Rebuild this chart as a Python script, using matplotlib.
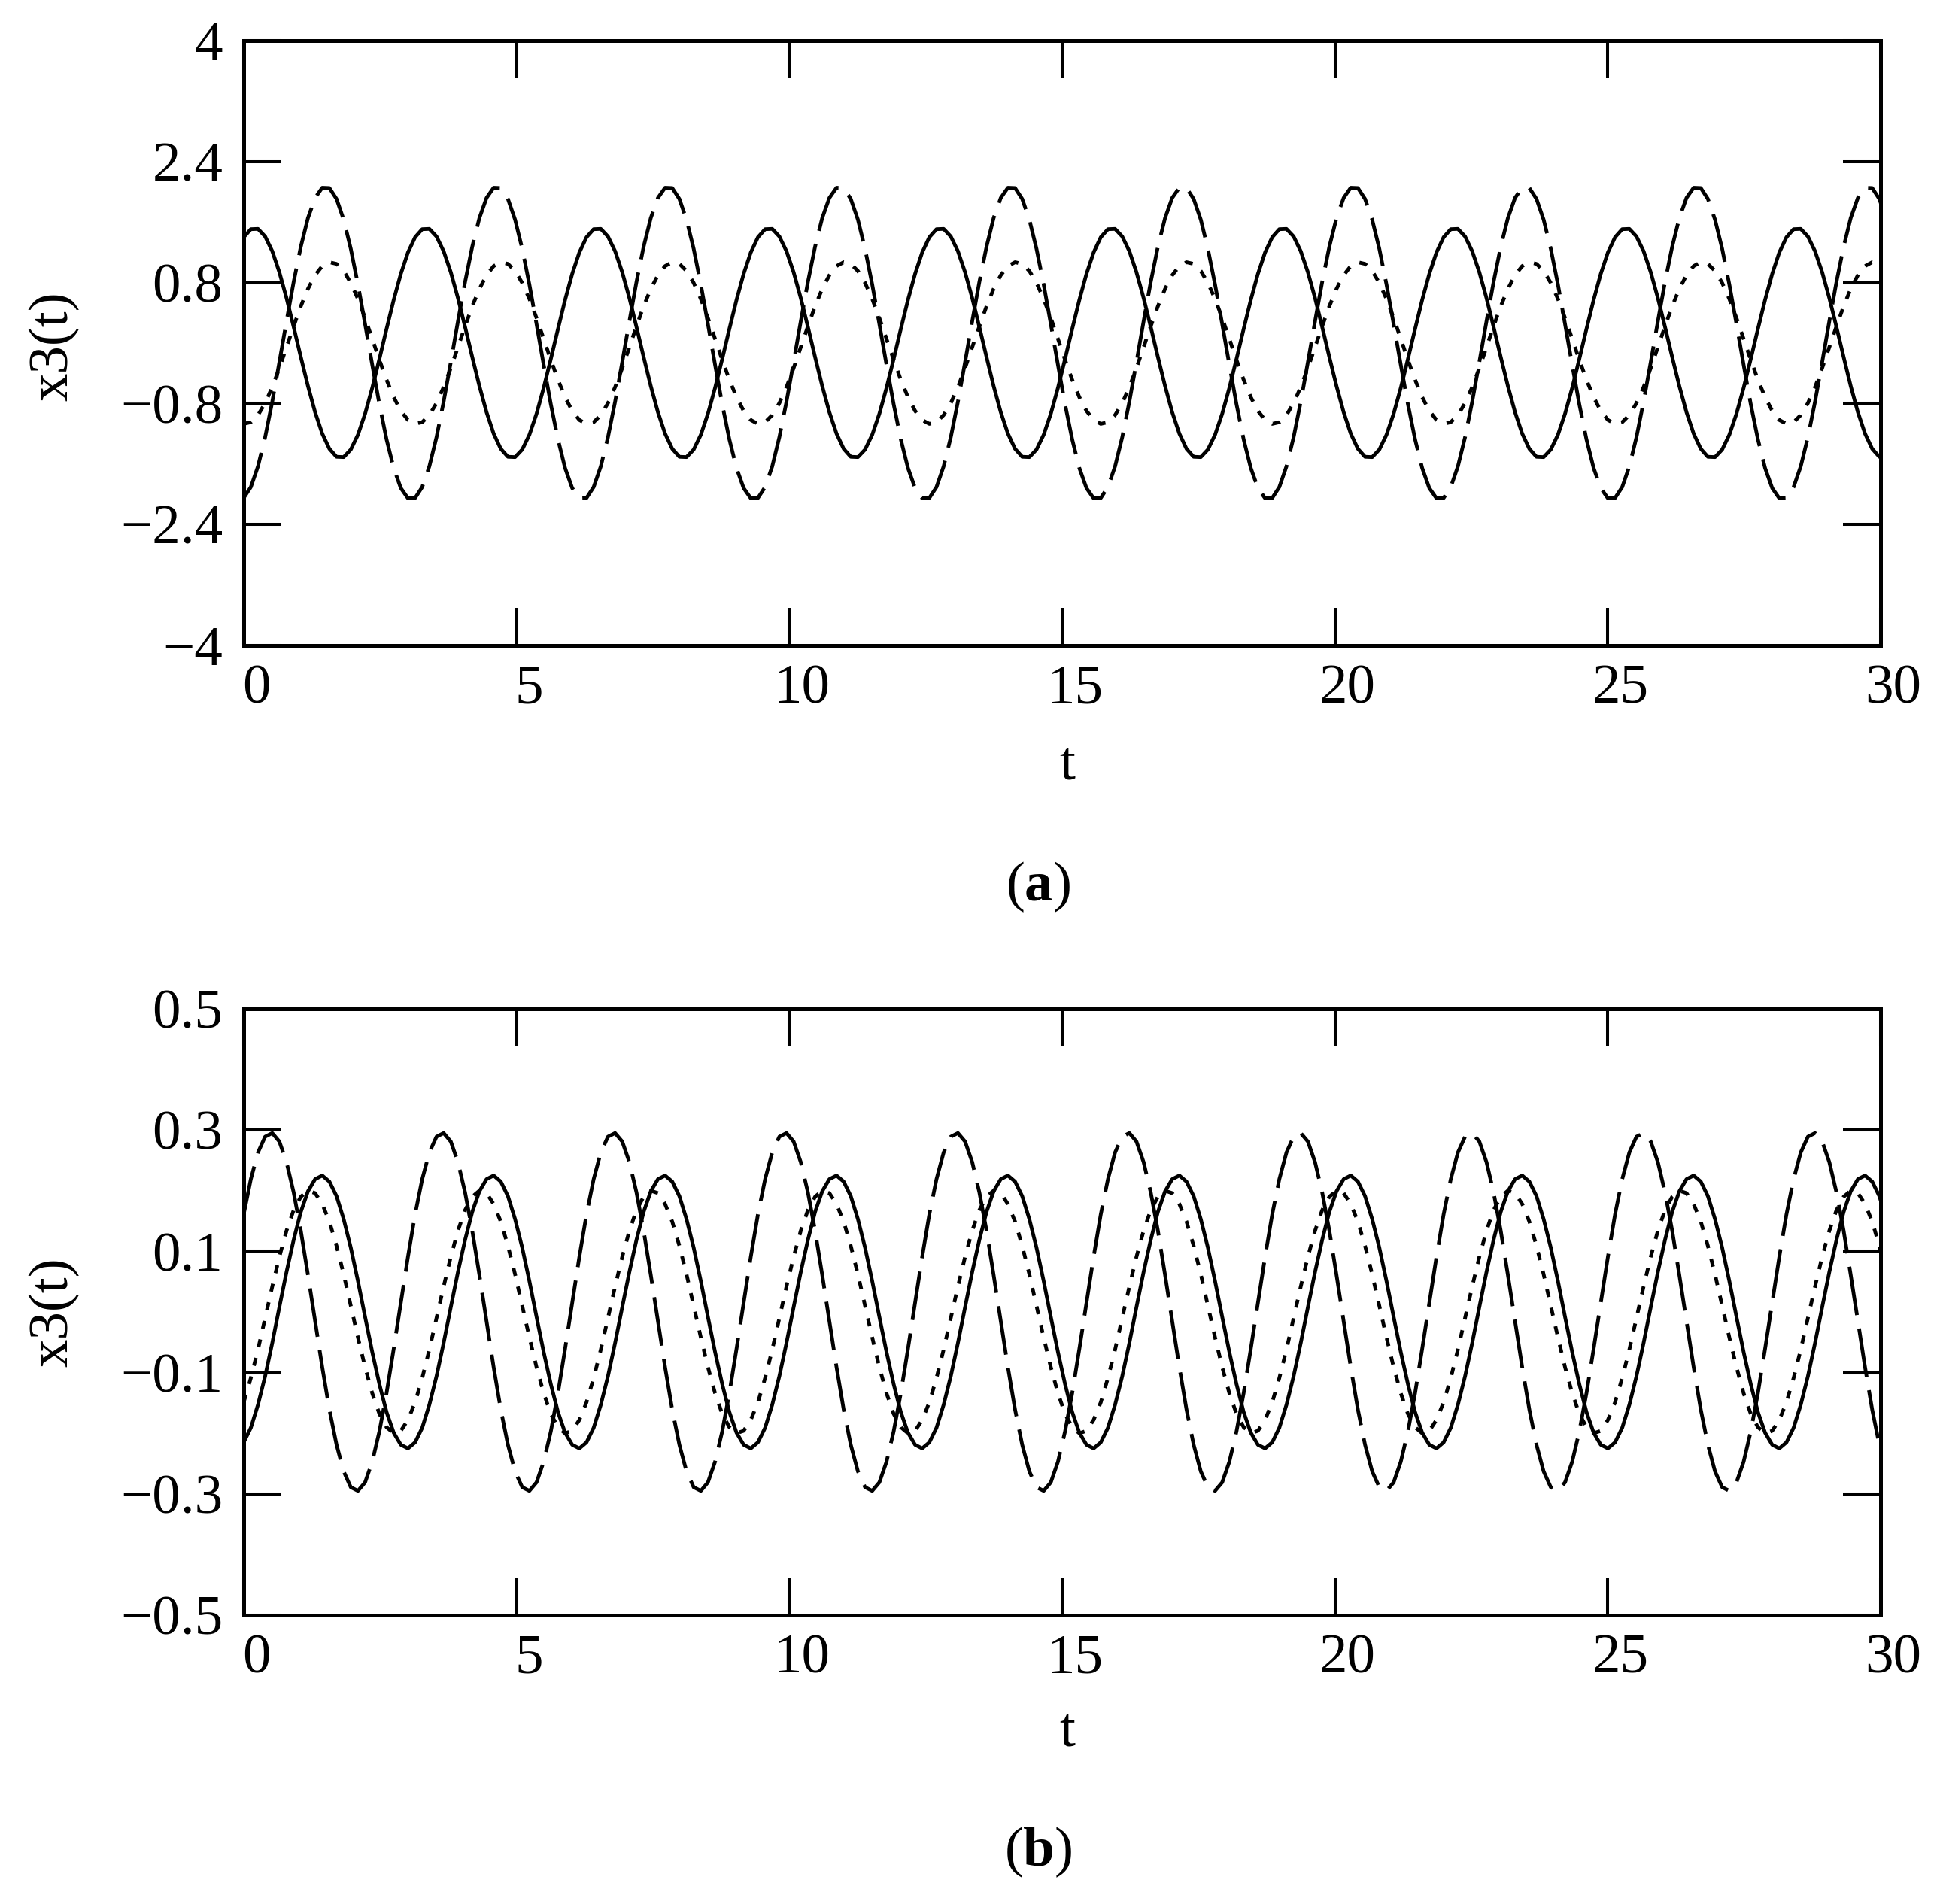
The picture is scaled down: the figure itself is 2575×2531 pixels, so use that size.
import matplotlib
matplotlib.use("Agg")
import matplotlib.pyplot as plt
import matplotlib.transforms as mtransforms

plt.rcParams['font.family'] = ['Liberation Serif', 'DejaVu Serif']
plt.rcParams['mathtext.fontset'] = 'custom'
plt.rcParams['mathtext.rm'] = 'Liberation Serif'
plt.rcParams['mathtext.bf'] = 'Liberation Serif:bold'

# sample times read along the t axis (24 samples per cycle, cycle ~ 3.14)
t = [0.000, 0.131, 0.262, 0.393, 0.524, 0.654, 0.785, 0.916, 1.047, 1.178, 1.309, 1.440,
     1.571, 1.702, 1.833, 1.963, 2.094, 2.225, 2.356, 2.487, 2.618, 2.749, 2.880, 3.011,
     3.142, 3.272, 3.403, 3.534, 3.665, 3.796, 3.927, 4.058, 4.189, 4.320, 4.451, 4.581,
     4.712, 4.843, 4.974, 5.105, 5.236, 5.367, 5.498, 5.629, 5.760, 5.890, 6.021, 6.152,
     6.283, 6.414, 6.545, 6.676, 6.807, 6.938, 7.069, 7.199, 7.330, 7.461, 7.592, 7.723,
     7.854, 7.985, 8.116, 8.247, 8.378, 8.508, 8.639, 8.770, 8.901, 9.032, 9.163, 9.294,
     9.425, 9.556, 9.687, 9.817, 9.948, 10.079, 10.210, 10.341, 10.472, 10.603, 10.734, 10.865,
     10.996, 11.126, 11.257, 11.388, 11.519, 11.650, 11.781, 11.912, 12.043, 12.174, 12.305, 12.435,
     12.566, 12.697, 12.828, 12.959, 13.090, 13.221, 13.352, 13.483, 13.614, 13.744, 13.875, 14.006,
     14.137, 14.268, 14.399, 14.530, 14.661, 14.792, 14.923, 15.053, 15.184, 15.315, 15.446, 15.577,
     15.708, 15.839, 15.970, 16.101, 16.232, 16.362, 16.493, 16.624, 16.755, 16.886, 17.017, 17.148,
     17.279, 17.410, 17.541, 17.671, 17.802, 17.933, 18.064, 18.195, 18.326, 18.457, 18.588, 18.719,
     18.850, 18.980, 19.111, 19.242, 19.373, 19.504, 19.635, 19.766, 19.897, 20.028, 20.159, 20.289,
     20.420, 20.551, 20.682, 20.813, 20.944, 21.075, 21.206, 21.337, 21.468, 21.598, 21.729, 21.860,
     21.991, 22.122, 22.253, 22.384, 22.515, 22.646, 22.777, 22.907, 23.038, 23.169, 23.300, 23.431,
     23.562, 23.693, 23.824, 23.955, 24.086, 24.216, 24.347, 24.478, 24.609, 24.740, 24.871, 25.002,
     25.133, 25.264, 25.395, 25.525, 25.656, 25.787, 25.918, 26.049, 26.180, 26.311, 26.442, 26.573,
     26.704, 26.834, 26.965, 27.096, 27.227, 27.358, 27.489, 27.620, 27.751, 27.882, 28.013, 28.143,
     28.274, 28.405, 28.536, 28.667, 28.798, 28.929, 29.060, 29.191, 29.322, 29.452, 29.583, 29.714,
     29.845, 29.976, 30.107]

# panel (a): solid, long-dash and short-dash curves
a_solid = [1.399, 1.505, 1.509, 1.409, 1.214, 0.936, 0.594, 0.212, -0.185, -0.569, -0.915, -1.198,
           -1.399, -1.505, -1.509, -1.409, -1.214, -0.936, -0.594, -0.212, 0.185, 0.569, 0.915, 1.198,
           1.399, 1.505, 1.509, 1.409, 1.214, 0.936, 0.594, 0.212, -0.185, -0.569, -0.915, -1.198,
           -1.399, -1.505, -1.509, -1.409, -1.214, -0.936, -0.594, -0.212, 0.185, 0.569, 0.915, 1.198,
           1.399, 1.505, 1.509, 1.409, 1.214, 0.936, 0.594, 0.212, -0.185, -0.569, -0.915, -1.198,
           -1.399, -1.505, -1.509, -1.409, -1.214, -0.936, -0.594, -0.212, 0.185, 0.569, 0.915, 1.198,
           1.399, 1.505, 1.509, 1.409, 1.214, 0.936, 0.594, 0.212, -0.185, -0.569, -0.915, -1.198,
           -1.399, -1.505, -1.509, -1.409, -1.214, -0.936, -0.594, -0.212, 0.185, 0.569, 0.915, 1.198,
           1.399, 1.505, 1.509, 1.409, 1.214, 0.936, 0.594, 0.212, -0.185, -0.569, -0.915, -1.198,
           -1.399, -1.505, -1.509, -1.409, -1.214, -0.936, -0.594, -0.212, 0.185, 0.569, 0.915, 1.198,
           1.399, 1.505, 1.509, 1.409, 1.214, 0.936, 0.594, 0.212, -0.185, -0.569, -0.915, -1.198,
           -1.399, -1.505, -1.509, -1.409, -1.214, -0.936, -0.594, -0.212, 0.185, 0.569, 0.915, 1.198,
           1.399, 1.505, 1.509, 1.409, 1.214, 0.936, 0.594, 0.212, -0.185, -0.569, -0.915, -1.198,
           -1.399, -1.505, -1.509, -1.409, -1.214, -0.936, -0.594, -0.212, 0.185, 0.569, 0.915, 1.198,
           1.399, 1.505, 1.509, 1.409, 1.214, 0.936, 0.594, 0.212, -0.185, -0.569, -0.915, -1.198,
           -1.399, -1.505, -1.509, -1.409, -1.214, -0.936, -0.594, -0.212, 0.185, 0.569, 0.915, 1.198,
           1.399, 1.505, 1.509, 1.409, 1.214, 0.936, 0.594, 0.212, -0.185, -0.569, -0.915, -1.198,
           -1.399, -1.505, -1.509, -1.409, -1.214, -0.936, -0.594, -0.212, 0.185, 0.569, 0.915, 1.198,
           1.399, 1.505, 1.509, 1.409, 1.214, 0.936, 0.594, 0.212, -0.185, -0.569, -0.915, -1.198,
           -1.399, -1.505, -1.509]
a_dashed = [-2.050, -1.905, -1.631, -1.246, -0.775, -0.252, 0.288, 0.809, 1.274, 1.653, 1.919, 2.054,
            2.050, 1.905, 1.631, 1.246, 0.775, 0.252, -0.288, -0.809, -1.274, -1.653, -1.919, -2.054,
            -2.050, -1.905, -1.631, -1.246, -0.775, -0.252, 0.288, 0.809, 1.274, 1.653, 1.919, 2.054,
            2.050, 1.905, 1.631, 1.246, 0.775, 0.252, -0.288, -0.809, -1.274, -1.653, -1.919, -2.054,
            -2.050, -1.905, -1.631, -1.246, -0.775, -0.252, 0.288, 0.809, 1.274, 1.653, 1.919, 2.054,
            2.050, 1.905, 1.631, 1.246, 0.775, 0.252, -0.288, -0.809, -1.274, -1.653, -1.919, -2.054,
            -2.050, -1.905, -1.631, -1.246, -0.775, -0.252, 0.288, 0.809, 1.274, 1.653, 1.919, 2.054,
            2.050, 1.905, 1.631, 1.246, 0.775, 0.252, -0.288, -0.809, -1.274, -1.653, -1.919, -2.054,
            -2.050, -1.905, -1.631, -1.246, -0.775, -0.252, 0.288, 0.809, 1.274, 1.653, 1.919, 2.054,
            2.050, 1.905, 1.631, 1.246, 0.775, 0.252, -0.288, -0.809, -1.274, -1.653, -1.919, -2.054,
            -2.050, -1.905, -1.631, -1.246, -0.775, -0.252, 0.288, 0.809, 1.274, 1.653, 1.919, 2.054,
            2.050, 1.905, 1.631, 1.246, 0.775, 0.252, -0.288, -0.809, -1.274, -1.653, -1.919, -2.054,
            -2.050, -1.905, -1.631, -1.246, -0.775, -0.252, 0.288, 0.809, 1.274, 1.653, 1.919, 2.054,
            2.050, 1.905, 1.631, 1.246, 0.775, 0.252, -0.288, -0.809, -1.274, -1.653, -1.919, -2.054,
            -2.050, -1.905, -1.631, -1.246, -0.775, -0.252, 0.288, 0.809, 1.274, 1.653, 1.919, 2.054,
            2.050, 1.905, 1.631, 1.246, 0.775, 0.252, -0.288, -0.809, -1.274, -1.653, -1.919, -2.054,
            -2.050, -1.905, -1.631, -1.246, -0.775, -0.252, 0.288, 0.809, 1.274, 1.653, 1.919, 2.054,
            2.050, 1.905, 1.631, 1.246, 0.775, 0.252, -0.288, -0.809, -1.274, -1.653, -1.919, -2.054,
            -2.050, -1.905, -1.631, -1.246, -0.775, -0.252, 0.288, 0.809, 1.274, 1.653, 1.919, 2.054,
            2.050, 1.905, 1.631]
a_dotted = [-1.069, -1.047, -0.953, -0.795, -0.583, -0.331, -0.056, 0.222, 0.486, 0.716, 0.897, 1.018,
            1.069, 1.047, 0.953, 0.795, 0.583, 0.331, 0.056, -0.222, -0.486, -0.716, -0.897, -1.018,
            -1.069, -1.047, -0.953, -0.795, -0.583, -0.331, -0.056, 0.222, 0.486, 0.716, 0.897, 1.018,
            1.069, 1.047, 0.953, 0.795, 0.583, 0.331, 0.056, -0.222, -0.486, -0.716, -0.897, -1.018,
            -1.069, -1.047, -0.953, -0.795, -0.583, -0.331, -0.056, 0.222, 0.486, 0.716, 0.897, 1.018,
            1.069, 1.047, 0.953, 0.795, 0.583, 0.331, 0.056, -0.222, -0.486, -0.716, -0.897, -1.018,
            -1.069, -1.047, -0.953, -0.795, -0.583, -0.331, -0.056, 0.222, 0.486, 0.716, 0.897, 1.018,
            1.069, 1.047, 0.953, 0.795, 0.583, 0.331, 0.056, -0.222, -0.486, -0.716, -0.897, -1.018,
            -1.069, -1.047, -0.953, -0.795, -0.583, -0.331, -0.056, 0.222, 0.486, 0.716, 0.897, 1.018,
            1.069, 1.047, 0.953, 0.795, 0.583, 0.331, 0.056, -0.222, -0.486, -0.716, -0.897, -1.018,
            -1.069, -1.047, -0.953, -0.795, -0.583, -0.331, -0.056, 0.222, 0.486, 0.716, 0.897, 1.018,
            1.069, 1.047, 0.953, 0.795, 0.583, 0.331, 0.056, -0.222, -0.486, -0.716, -0.897, -1.018,
            -1.069, -1.047, -0.953, -0.795, -0.583, -0.331, -0.056, 0.222, 0.486, 0.716, 0.897, 1.018,
            1.069, 1.047, 0.953, 0.795, 0.583, 0.331, 0.056, -0.222, -0.486, -0.716, -0.897, -1.018,
            -1.069, -1.047, -0.953, -0.795, -0.583, -0.331, -0.056, 0.222, 0.486, 0.716, 0.897, 1.018,
            1.069, 1.047, 0.953, 0.795, 0.583, 0.331, 0.056, -0.222, -0.486, -0.716, -0.897, -1.018,
            -1.069, -1.047, -0.953, -0.795, -0.583, -0.331, -0.056, 0.222, 0.486, 0.716, 0.897, 1.018,
            1.069, 1.047, 0.953, 0.795, 0.583, 0.331, 0.056, -0.222, -0.486, -0.716, -0.897, -1.018,
            -1.069, -1.047, -0.953, -0.795, -0.583, -0.331, -0.056, 0.222, 0.486, 0.716, 0.897, 1.018,
            1.069, 1.047, 0.953]

# panel (b)
b_solid = [-0.215, -0.191, -0.153, -0.106, -0.051, 0.008, 0.066, 0.119, 0.165, 0.199, 0.219, 0.225,
           0.215, 0.191, 0.153, 0.106, 0.051, -0.008, -0.066, -0.119, -0.165, -0.199, -0.219, -0.225,
           -0.215, -0.191, -0.153, -0.106, -0.051, 0.008, 0.066, 0.119, 0.165, 0.199, 0.219, 0.225,
           0.215, 0.191, 0.153, 0.106, 0.051, -0.008, -0.066, -0.119, -0.165, -0.199, -0.219, -0.225,
           -0.215, -0.191, -0.153, -0.106, -0.051, 0.008, 0.066, 0.119, 0.165, 0.199, 0.219, 0.225,
           0.215, 0.191, 0.153, 0.106, 0.051, -0.008, -0.066, -0.119, -0.165, -0.199, -0.219, -0.225,
           -0.215, -0.191, -0.153, -0.106, -0.051, 0.008, 0.066, 0.119, 0.165, 0.199, 0.219, 0.225,
           0.215, 0.191, 0.153, 0.106, 0.051, -0.008, -0.066, -0.119, -0.165, -0.199, -0.219, -0.225,
           -0.215, -0.191, -0.153, -0.106, -0.051, 0.008, 0.066, 0.119, 0.165, 0.199, 0.219, 0.225,
           0.215, 0.191, 0.153, 0.106, 0.051, -0.008, -0.066, -0.119, -0.165, -0.199, -0.219, -0.225,
           -0.215, -0.191, -0.153, -0.106, -0.051, 0.008, 0.066, 0.119, 0.165, 0.199, 0.219, 0.225,
           0.215, 0.191, 0.153, 0.106, 0.051, -0.008, -0.066, -0.119, -0.165, -0.199, -0.219, -0.225,
           -0.215, -0.191, -0.153, -0.106, -0.051, 0.008, 0.066, 0.119, 0.165, 0.199, 0.219, 0.225,
           0.215, 0.191, 0.153, 0.106, 0.051, -0.008, -0.066, -0.119, -0.165, -0.199, -0.219, -0.225,
           -0.215, -0.191, -0.153, -0.106, -0.051, 0.008, 0.066, 0.119, 0.165, 0.199, 0.219, 0.225,
           0.215, 0.191, 0.153, 0.106, 0.051, -0.008, -0.066, -0.119, -0.165, -0.199, -0.219, -0.225,
           -0.215, -0.191, -0.153, -0.106, -0.051, 0.008, 0.066, 0.119, 0.165, 0.199, 0.219, 0.225,
           0.215, 0.191, 0.153, 0.106, 0.051, -0.008, -0.066, -0.119, -0.165, -0.199, -0.219, -0.225,
           -0.215, -0.191, -0.153, -0.106, -0.051, 0.008, 0.066, 0.119, 0.165, 0.199, 0.219, 0.225,
           0.215, 0.191, 0.153]
b_dashed = [0.161, 0.219, 0.263, 0.289, 0.295, 0.281, 0.247, 0.197, 0.134, 0.061, -0.015, -0.091,
            -0.161, -0.219, -0.263, -0.289, -0.295, -0.281, -0.247, -0.197, -0.134, -0.061, 0.015, 0.091,
            0.161, 0.219, 0.263, 0.289, 0.295, 0.281, 0.247, 0.197, 0.134, 0.061, -0.015, -0.091,
            -0.161, -0.219, -0.263, -0.289, -0.295, -0.281, -0.247, -0.197, -0.134, -0.061, 0.015, 0.091,
            0.161, 0.219, 0.263, 0.289, 0.295, 0.281, 0.247, 0.197, 0.134, 0.061, -0.015, -0.091,
            -0.161, -0.219, -0.263, -0.289, -0.295, -0.281, -0.247, -0.197, -0.134, -0.061, 0.015, 0.091,
            0.161, 0.219, 0.263, 0.289, 0.295, 0.281, 0.247, 0.197, 0.134, 0.061, -0.015, -0.091,
            -0.161, -0.219, -0.263, -0.289, -0.295, -0.281, -0.247, -0.197, -0.134, -0.061, 0.015, 0.091,
            0.161, 0.219, 0.263, 0.289, 0.295, 0.281, 0.247, 0.197, 0.134, 0.061, -0.015, -0.091,
            -0.161, -0.219, -0.263, -0.289, -0.295, -0.281, -0.247, -0.197, -0.134, -0.061, 0.015, 0.091,
            0.161, 0.219, 0.263, 0.289, 0.295, 0.281, 0.247, 0.197, 0.134, 0.061, -0.015, -0.091,
            -0.161, -0.219, -0.263, -0.289, -0.295, -0.281, -0.247, -0.197, -0.134, -0.061, 0.015, 0.091,
            0.161, 0.219, 0.263, 0.289, 0.295, 0.281, 0.247, 0.197, 0.134, 0.061, -0.015, -0.091,
            -0.161, -0.219, -0.263, -0.289, -0.295, -0.281, -0.247, -0.197, -0.134, -0.061, 0.015, 0.091,
            0.161, 0.219, 0.263, 0.289, 0.295, 0.281, 0.247, 0.197, 0.134, 0.061, -0.015, -0.091,
            -0.161, -0.219, -0.263, -0.289, -0.295, -0.281, -0.247, -0.197, -0.134, -0.061, 0.015, 0.091,
            0.161, 0.219, 0.263, 0.289, 0.295, 0.281, 0.247, 0.197, 0.134, 0.061, -0.015, -0.091,
            -0.161, -0.219, -0.263, -0.289, -0.295, -0.281, -0.247, -0.197, -0.134, -0.061, 0.015, 0.091,
            0.161, 0.219, 0.263, 0.289, 0.295, 0.281, 0.247, 0.197, 0.134, 0.061, -0.015, -0.091,
            -0.161, -0.219, -0.263]
b_dotted = [-0.149, -0.109, -0.062, -0.010, 0.042, 0.091, 0.134, 0.168, 0.190, 0.200, 0.196, 0.178,
            0.149, 0.109, 0.062, 0.010, -0.042, -0.091, -0.134, -0.168, -0.190, -0.200, -0.196, -0.178,
            -0.149, -0.109, -0.062, -0.010, 0.042, 0.091, 0.134, 0.168, 0.190, 0.200, 0.196, 0.178,
            0.149, 0.109, 0.062, 0.010, -0.042, -0.091, -0.134, -0.168, -0.190, -0.200, -0.196, -0.178,
            -0.149, -0.109, -0.062, -0.010, 0.042, 0.091, 0.134, 0.168, 0.190, 0.200, 0.196, 0.178,
            0.149, 0.109, 0.062, 0.010, -0.042, -0.091, -0.134, -0.168, -0.190, -0.200, -0.196, -0.178,
            -0.149, -0.109, -0.062, -0.010, 0.042, 0.091, 0.134, 0.168, 0.190, 0.200, 0.196, 0.178,
            0.149, 0.109, 0.062, 0.010, -0.042, -0.091, -0.134, -0.168, -0.190, -0.200, -0.196, -0.178,
            -0.149, -0.109, -0.062, -0.010, 0.042, 0.091, 0.134, 0.168, 0.190, 0.200, 0.196, 0.178,
            0.149, 0.109, 0.062, 0.010, -0.042, -0.091, -0.134, -0.168, -0.190, -0.200, -0.196, -0.178,
            -0.149, -0.109, -0.062, -0.010, 0.042, 0.091, 0.134, 0.168, 0.190, 0.200, 0.196, 0.178,
            0.149, 0.109, 0.062, 0.010, -0.042, -0.091, -0.134, -0.168, -0.190, -0.200, -0.196, -0.178,
            -0.149, -0.109, -0.062, -0.010, 0.042, 0.091, 0.134, 0.168, 0.190, 0.200, 0.196, 0.178,
            0.149, 0.109, 0.062, 0.010, -0.042, -0.091, -0.134, -0.168, -0.190, -0.200, -0.196, -0.178,
            -0.149, -0.109, -0.062, -0.010, 0.042, 0.091, 0.134, 0.168, 0.190, 0.200, 0.196, 0.178,
            0.149, 0.109, 0.062, 0.010, -0.042, -0.091, -0.134, -0.168, -0.190, -0.200, -0.196, -0.178,
            -0.149, -0.109, -0.062, -0.010, 0.042, 0.091, 0.134, 0.168, 0.190, 0.200, 0.196, 0.178,
            0.149, 0.109, 0.062, 0.010, -0.042, -0.091, -0.134, -0.168, -0.190, -0.200, -0.196, -0.178,
            -0.149, -0.109, -0.062, -0.010, 0.042, 0.091, 0.134, 0.168, 0.190, 0.200, 0.196, 0.178,
            0.149, 0.109, 0.062]

x_ticks = [0, 5, 10, 15, 20, 25, 30]
x_labels = ['0', '5', '10', '15', '20', '25', '30']
a_yticks = [-4, -2.4, -0.8, 0.8, 2.4, 4]
a_ylabels = ['\u22124', '\u22122.4', '\u22120.8', '0.8', '2.4', '4']
b_yticks = [-0.5, -0.3, -0.1, 0.1, 0.3, 0.5]
b_ylabels = ['\u22120.5', '\u22120.3', '\u22120.1', '0.1', '0.3', '0.5']

FS = 54
LW = 3.5

fig = plt.figure(figsize=(25.75, 25.31), dpi=100)
ax_a = fig.add_axes([0.1258, 0.6610, 0.8451, 0.3177])
ax_b = fig.add_axes([0.1258, 0.1517, 0.8451, 0.3185])


def draw_panel(ax, solid, dashed, dotted, yticks, ylabels):
    ax.plot(t, solid, color='black', lw=LW)
    ax.plot(t, dashed, color='black', lw=LW, dashes=(13.4, 3.7))
    ax.plot(t, dotted, color='black', lw=LW, dashes=(2.2, 3.0))
    ax.set_xlim(0, 30)
    ax.set_ylim(yticks[0], yticks[-1])
    ax.set_xticks(x_ticks, labels=x_labels)
    ax.set_yticks(yticks, labels=ylabels)
    ax.tick_params(direction='in', length=36, width=2.9, top=True, right=True,
                   labelsize=FS, color='black')
    ax.tick_params(axis='x', pad=18)
    ax.tick_params(axis='y', pad=20)
    for sp in ax.spines.values():
        sp.set_linewidth(3.6)
    # Mathcad-style labels sit a little right of their ticks
    offset = mtransforms.ScaledTranslation(0.17, 0, fig.dpi_scale_trans)
    for lbl in ax.get_xticklabels():
        lbl.set_transform(lbl.get_transform() + offset)


draw_panel(ax_a, a_solid, a_dashed, a_dotted, a_yticks, a_ylabels)
draw_panel(ax_b, b_solid, b_dashed, b_dotted, b_yticks, b_ylabels)

# axis titles and panel captions
fig.text(0.028, 0.818, 'x3(t)', rotation=90, ha='center', va='center', fontsize=FS)
fig.text(0.028, 0.311, 'x3(t)', rotation=90, ha='center', va='center', fontsize=FS)
fig.text(0.551, 0.598, 't', ha='center', va='center', fontsize=FS)
fig.text(0.551, 0.090, 't', ha='center', va='center', fontsize=FS)
fig.text(0.536, 0.534, r'($\mathbf{a}$)', ha='center', va='center', fontsize=FS)
fig.text(0.536, 0.027, r'($\mathbf{b}$)', ha='center', va='center', fontsize=FS)

fig.savefig('out.png', dpi=100, facecolor='white')
